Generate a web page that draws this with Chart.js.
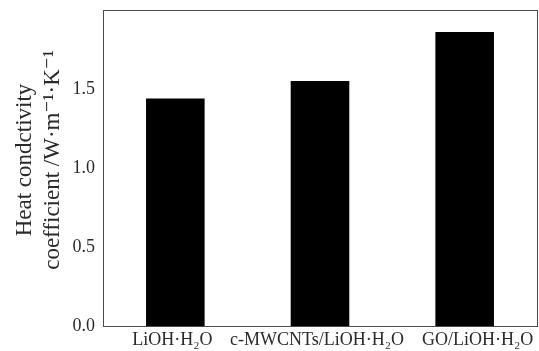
<!DOCTYPE html>
<html>
<head>
<meta charset="utf-8">
<script src="https://cdn.jsdelivr.net/npm/chart.js@4/dist/chart.umd.min.js"></script>
<style>
  html, body { margin: 0; padding: 0; background: #fff; }
  #wrap { width: 539px; height: 351px; }
</style>
</head>
<body>
<div id="wrap"><canvas id="c" width="539" height="351"></canvas></div>
<script>
// Thermal conductivity of the three composite samples
const categories = ['LiOH·H₂O', 'c-MWCNTs/LiOH·H₂O', 'GO/LiOH·H₂O'];
const conductivity = [1.44, 1.55, 1.86];
const yTicks = [0.0, 0.5, 1.0, 1.5];
const yTitle = ['Heat condctivity', 'coefficient /W·m⁻¹·K⁻¹'];

const serif = '"Liberation Serif", "DejaVu Serif", serif';
const textColor = '#2a2a2a';

// Frame around the plotting area, category labels and the rotated axis title
const decorations = {
  id: 'decorations',
  afterDraw(chart) {
    const { ctx, chartArea: a } = chart;
    const xs = chart.scales.x;
    ctx.save();
    ctx.strokeStyle = '#4a4a4a';
    ctx.lineWidth = 1;
    ctx.strokeRect(Math.round(a.left) + 0.5, Math.round(a.top) + 0.5,
                   Math.round(a.right - a.left), Math.round(a.bottom - a.top));

    // category labels, the last one nudged right so it clears its neighbour
    const nudge = [-3, -3, 13];
    ctx.fillStyle = textColor;
    ctx.font = '18px ' + serif;
    ctx.textAlign = 'center';
    ctx.textBaseline = 'middle';
    categories.forEach((lab, i) => {
      ctx.fillText(lab, xs.getPixelForTick(i) + nudge[i], a.bottom + 14);
    });

    // two-line y title
    ctx.font = '23px ' + serif;
    const cy = (a.top + a.bottom) / 2 - 8;
    [25, 53].forEach((x, i) => {
      ctx.save();
      ctx.translate(x, cy);
      ctx.rotate(-Math.PI / 2);
      ctx.fillText(yTitle[i], 0, 0);
      ctx.restore();
    });
    ctx.restore();
  }
};

new Chart(document.getElementById('c'), {
  type: 'bar',
  data: {
    labels: categories,
    datasets: [{
      data: conductivity,
      backgroundColor: '#000',
      borderWidth: 0,
      categoryPercentage: 1.0,
      barPercentage: 0.405
    }]
  },
  options: {
    responsive: false,
    animation: false,
    devicePixelRatio: 1,
    layout: { padding: { top: 10, right: 2, left: 0, bottom: 0 } },
    plugins: { legend: { display: false }, tooltip: { enabled: false } },
    scales: {
      x: {
        grid: { display: false, drawTicks: false },
        border: { display: false },
        ticks: { display: false },
        afterFit(s) { s.height = 25; }
      },
      y: {
        min: 0,
        max: 2.0,
        grid: { display: false, drawTicks: false },
        border: { display: false },
        afterBuildTicks(s) { s.ticks = yTicks.map(v => ({ value: v })); },
        ticks: {
          color: textColor,
          font: { family: serif, size: 18 },
          padding: 8,
          callback: v => Number(v).toFixed(1)
        },
        afterFit(s) { s.width = 103; s.paddingTop = 0; s.paddingBottom = 0; }
      }
    }
  },
  plugins: [decorations]
});
</script>
</body>
</html>
